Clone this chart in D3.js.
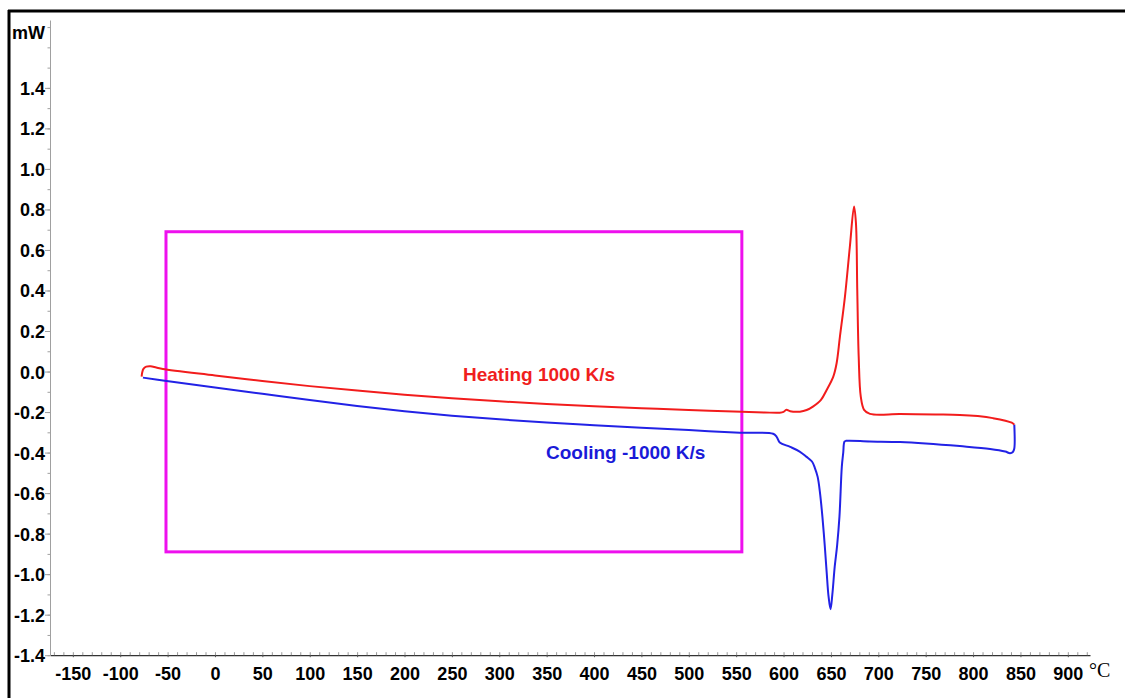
<!DOCTYPE html>
<html>
<head>
<meta charset="utf-8">
<script src="https://cdn.jsdelivr.net/npm/d3@7"></script>
<style>
  html, body { margin: 0; padding: 0; background: #fff; }
  svg { display: block; }
</style>
</head>
<body>
<svg id="chart" width="1125" height="698"></svg>
<script>
// Fast-scanning calorimetry trace: heat flow (mW) against temperature (°C)
const heatingTemp = [-77.4, -76.8, -75.5, -72.5, -68, -62, -55, 0, 50, 100, 150, 200, 250, 300, 350, 400, 450, 500, 556, 580, 596, 600, 603, 607, 617.3, 624.4, 631, 639.5, 645.5, 652.5, 656, 659.5, 664.8, 670, 674.4, 676.4, 677.8, 679.3, 681.5, 685, 691.2, 723, 760, 786, 805, 821, 840.8, 843.5];
const heatingPower = [-0.025, -0.005, 0.013, 0.024, 0.026, 0.020, 0.013, -0.019, -0.047, -0.072, -0.094, -0.114, -0.132, -0.147, -0.160, -0.171, -0.181, -0.190, -0.199, -0.202, -0.203, -0.199, -0.189, -0.196, -0.198, -0.190, -0.173, -0.140, -0.091, -0.025, 0.041, 0.172, 0.370, 0.617, 0.815, 0.733, 0.401, 0.074, -0.124, -0.189, -0.209, -0.210, -0.212, -0.214, -0.220, -0.230, -0.252, -0.262];

const coolingTemp = [843.5, 843.5, 842, 839, 834, 818, 786, 750, 723, 691, 666, 664.3, 663, 661.5, 659, 656.5, 654, 651.5, 649.6, 647.5, 645.5, 643.5, 641, 638.5, 636, 633, 630, 624, 617, 607, 596, 592.7, 589, 554, 500, 450, 400, 350, 300, 250, 200, 150, 100, 50, 0, -53, -76];
const coolingPower = [-0.262, -0.380, -0.397, -0.403, -0.395, -0.382, -0.368, -0.355, -0.348, -0.345, -0.342, -0.346, -0.400, -0.469, -0.716, -0.860, -0.963, -1.100, -1.173, -1.110, -0.990, -0.860, -0.716, -0.600, -0.520, -0.475, -0.444, -0.420, -0.395, -0.372, -0.350, -0.322, -0.307, -0.302, -0.289, -0.277, -0.265, -0.252, -0.236, -0.218, -0.196, -0.170, -0.141, -0.110, -0.079, -0.046, -0.030];

const xTickValues = [-150, -100, -50, 0, 50, 100, 150, 200, 250, 300, 350, 400, 450, 500, 550, 600, 650, 700, 750, 800, 850, 900];
const yTickValues = [-1.4, -1.2, -1.0, -0.8, -0.6, -0.4, -0.2, 0.0, 0.2, 0.4, 0.6, 0.8, 1.0, 1.2, 1.4];

// Highlight box [tMin, tMax, pMin, pMax] in data units
const highlightBox = [-51.7, 556, -0.89, 0.69];

const seriesLabels = ["Heating 1000 K/s", "Cooling -1000 K/s"];
const xUnit = "°C";
const yUnit = "mW";

const svg = d3.select("#chart");

const x = d3.scaleLinear().domain([-174.1, 923.4]).range([50, 1090]);
const y = d3.scaleLinear().domain([-1.4, 1.735]).range([655.2, 20]);

const hyphen = s => s.replace(/\u2212/g, "-");

// outer frame (top and left edges visible)
svg.append("line").attr("x1", 8).attr("x2", 1125).attr("y1", 11).attr("y2", 11)
  .attr("stroke", "#000").attr("stroke-width", 3);
svg.append("line").attr("x1", 9).attr("x2", 9).attr("y1", 10).attr("y2", 698)
  .attr("stroke", "#000").attr("stroke-width", 3);

// x axis: minor ticks every 10 °C
const xMinor = d3.range(-170, 921, 10);
const xAxisG = svg.append("g").attr("transform", `translate(0,${y(-1.4)})`)
  .call(d3.axisTop(x).tickValues(xMinor).tickSize(3).tickFormat("").tickSizeOuter(0));
xAxisG.select(".domain").attr("stroke", "#333").attr("stroke-width", 1.2);
xAxisG.selectAll(".tick line").attr("stroke", "#999");

const xLabels = svg.append("g").attr("transform", `translate(0,${y(-1.4)})`)
  .call(d3.axisBottom(x).tickValues(xTickValues).tickSize(2).tickFormat(d => hyphen(d3.format("d")(d))));
xLabels.select(".domain").remove();
xLabels.selectAll(".tick line").attr("stroke", "#555");
xLabels.selectAll(".tick text")
  .attr("font-family", "Liberation Sans, Arial, sans-serif")
  .attr("font-weight", "bold").attr("font-size", 18).attr("fill", "#000")
  .attr("y", 0).attr("dy", 24.5);

// y axis: major ticks every 0.2, minor every 0.1
const yMinor = d3.range(-14, 18, 1).map(v => v / 10);
const yMinorG = svg.append("g").attr("transform", "translate(50,0)")
  .call(d3.axisLeft(y).tickValues(yMinor).tickSize(2.5).tickFormat("").tickSizeOuter(0));
yMinorG.select(".domain").attr("stroke", "#a0a0a0").attr("stroke-width", 1);
yMinorG.selectAll(".tick line").attr("stroke", "#a0a0a0");

const yAxisG = svg.append("g").attr("transform", "translate(50,0)")
  .call(d3.axisLeft(y).tickValues(yTickValues).tickSize(5).tickFormat(d => hyphen(d3.format(".1f")(d))));
yAxisG.select(".domain").remove();
yAxisG.selectAll(".tick line").attr("stroke", "#a0a0a0");
yAxisG.selectAll(".tick text")
  .attr("font-family", "Liberation Sans, Arial, sans-serif")
  .attr("font-weight", "bold").attr("font-size", 18).attr("fill", "#000")
  .attr("x", -5).attr("dy", "0.36em");

// unit labels
svg.append("text").attr("x", 45).attr("y", 39).attr("text-anchor", "end")
  .attr("font-family", "Liberation Sans, Arial, sans-serif")
  .attr("font-weight", "bold").attr("font-size", 18).text(yUnit);
svg.append("text").attr("x", 1089).attr("y", 677)
  .attr("font-family", "Liberation Serif, Times New Roman, serif")
  .attr("font-size", 20).text(xUnit);

// highlight rectangle
svg.append("rect")
  .attr("x", x(highlightBox[0])).attr("y", y(highlightBox[3]))
  .attr("width", x(highlightBox[1]) - x(highlightBox[0]))
  .attr("height", y(highlightBox[2]) - y(highlightBox[3]))
  .attr("fill", "none").attr("stroke", "#ee10ee").attr("stroke-width", 3);

// curves
const line = d3.line().x(d => x(d[0])).y(d => y(d[1])).curve(d3.curveCatmullRom.alpha(0.5));
const heating = heatingTemp.map((t, i) => [t, heatingPower[i]]);
const cooling = coolingTemp.map((t, i) => [t, coolingPower[i]]);

svg.append("path").datum(cooling).attr("d", line)
  .attr("fill", "none").attr("stroke", "#2222e6").attr("stroke-width", 2)
  .attr("stroke-linejoin", "round");
svg.append("path").datum(heating).attr("d", line)
  .attr("fill", "none").attr("stroke", "#f21c1c").attr("stroke-width", 2)
  .attr("stroke-linejoin", "round");

// series labels
svg.append("text").attr("x", 463).attr("y", 381)
  .attr("font-family", "Liberation Sans, Arial, sans-serif")
  .attr("font-weight", "bold").attr("font-size", 19).attr("fill", "#f01e1e")
  .text(seriesLabels[0]);
svg.append("text").attr("x", 546).attr("y", 459)
  .attr("font-family", "Liberation Sans, Arial, sans-serif")
  .attr("font-weight", "bold").attr("font-size", 19).attr("fill", "#1a1ad8")
  .text(seriesLabels[1]);
</script>
</body>
</html>
